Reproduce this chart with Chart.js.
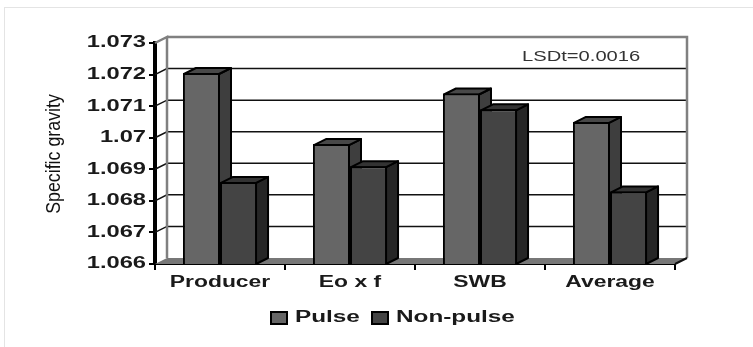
<!DOCTYPE html>
<html>
<head>
<meta charset="utf-8">
<style>
  html, body { margin: 0; padding: 0; background: #fff; }
  #wrap { position: absolute; left: 4px; top: 7px; width: 749px; height: 340px; border-left: 1px solid #e4e4e4; border-top: 1px solid #e4e4e4; box-sizing: border-box; }
  canvas { position: absolute; left: 0; top: 0; filter: blur(0.5px); }
</style>
</head>
<body>
<div id="wrap"></div>
<canvas id="gravityChart" width="753" height="347"></canvas>
<script src="https://cdn.jsdelivr.net/npm/chart.js@4"></script>
<script>
const categories = ['Producer', 'Eo x f', 'SWB', 'Average'];
const pulse = [1.07205, 1.0698, 1.0714, 1.0705];
const nonPulse = [1.0686, 1.0691, 1.0709, 1.0683];
const seriesNames = ['Pulse', 'Non-pulse'];
const yTitle = 'Specific gravity';
const note = 'LSDt=0.0016';

// depth of the fake 3D box
const DX = 12;
const DY = 6;

// text in the source image is stretched sideways, fillText + scale does that
function wideText(ctx, text, x, y, font, color, sx, align) {
  ctx.save();
  ctx.font = font;
  ctx.fillStyle = color;
  ctx.textBaseline = 'middle';
  ctx.textAlign = align;
  ctx.translate(x, y);
  ctx.scale(sx, 1);
  ctx.fillText(text, 0, 0);
  ctx.restore();
}

function poly(ctx, pts, fill) {
  ctx.beginPath();
  pts.forEach((p, i) => (i ? ctx.lineTo(p[0], p[1]) : ctx.moveTo(p[0], p[1])));
  ctx.closePath();
  ctx.fillStyle = fill;
  ctx.fill();
}

function drawWall(chart) {
  const { ctx, chartArea: a, scales: { y } } = chart;
  // floor
  poly(ctx, [[a.left, a.bottom], [a.left + DX, a.bottom - DY], [a.right + DX, a.bottom - DY], [a.right, a.bottom]], '#777');
  // grid on back wall, with the short slanted piece from the axis
  ctx.strokeStyle = '#111';
  ctx.lineWidth = 1.5;
  y.ticks.forEach((t) => {
    if (t.value <= y.min || t.value >= y.max) return;
    const py = y.getPixelForValue(t.value);
    ctx.beginPath();
    ctx.moveTo(a.left, py);
    ctx.lineTo(a.left + DX, py - DY);
    ctx.lineTo(a.right + DX, py - DY);
    ctx.stroke();
  });
  // wall outline
  ctx.strokeStyle = '#808080';
  ctx.lineWidth = 2.5;
  ctx.beginPath();
  ctx.moveTo(a.left, a.top);
  ctx.lineTo(a.left + DX, a.top - DY);
  ctx.lineTo(a.left + DX, a.bottom - DY);
  ctx.moveTo(a.left + DX, a.top - DY);
  ctx.lineTo(a.right + DX, a.top - DY);
  ctx.lineTo(a.right + DX, a.bottom - DY);
  ctx.stroke();
  ctx.strokeStyle = '#111';
  ctx.lineWidth = 2;
  ctx.beginPath();
  ctx.moveTo(a.right, a.bottom);
  ctx.lineTo(a.right + DX, a.bottom - DY);
  ctx.stroke();
}

// sides and tops go under all the front faces, pulse first
function drawSides(chart, index) {
  const { ctx, scales: { y } } = chart;
  const ds = chart.data.datasets[index];
  const b = y.getPixelForValue(y.min);
  ctx.strokeStyle = '#000';
  ctx.lineWidth = 2;
  ctx.lineJoin = 'round';
  chart.getDatasetMeta(index).data.forEach((bar) => {
    const l = bar.x - bar.width / 2 + 1;
    const r = bar.x + bar.width / 2 - 1;
    const t = bar.y + 1;
    poly(ctx, [[r, t], [r + DX, t - DY], [r + DX, b - DY], [r, b]], ds.sideColor);
    ctx.stroke();
    poly(ctx, [[l, t], [l + DX, t - DY], [r + DX, t - DY], [r, t]], ds.topColor);
    ctx.stroke();
  });
}

const box = {
  id: 'box',
  beforeDatasetsDraw(chart) {
    chart.ctx.save();
    drawWall(chart);
    drawSides(chart, 0);
    drawSides(chart, 1);
    chart.ctx.restore();
  },
};

const labels = {
  id: 'labels',
  afterDraw(chart) {
    const { ctx, scales: { x, y } } = chart;
    const tickFont = 'bold 16px "Liberation Sans"';
    y.ticks.forEach((t) => {
      wideText(ctx, t.label, 146, y.getPixelForValue(t.value), tickFont, '#1a1a1a', 1.48, 'right');
    });
    categories.forEach((c, i) => {
      wideText(ctx, c, x.getPixelForValue(i), 283, tickFont, '#1a1a1a', 1.43, 'center');
    });
    // axis title
    ctx.save();
    ctx.translate(54, 154);
    ctx.rotate(-Math.PI / 2);
    wideText(ctx, yTitle, 0, 0, '20px "Liberation Sans"', '#111', 0.89, 'center');
    ctx.restore();
    // note on the wall
    wideText(ctx, note, 522, 57, '14px "Liberation Sans"', '#333', 1.44, 'left');
    // legend
    const items = [[271, 295, 0], [372, 396, 1]];
    items.forEach(([bx, tx, i]) => {
      ctx.fillStyle = chart.data.datasets[i].backgroundColor;
      ctx.strokeStyle = '#000';
      ctx.lineWidth = 2;
      ctx.fillRect(bx, 312, 16, 12);
      ctx.strokeRect(bx, 312, 16, 12);
      wideText(ctx, seriesNames[i], tx, 318, tickFont, '#1a1a1a', 1.52, 'left');
    });
  },
};

new Chart(document.getElementById('gravityChart'), {
  type: 'bar',
  data: {
    labels: categories,
    datasets: [
      { label: seriesNames[0], data: pulse, backgroundColor: '#666666', sideColor: '#3e3e3e', topColor: '#484848', borderColor: '#000', borderWidth: 2 },
      { label: seriesNames[1], data: nonPulse, backgroundColor: '#444444', sideColor: '#262626', topColor: '#333333', borderColor: '#000', borderWidth: 2 },
    ],
  },
  plugins: [box, labels],
  options: {
    responsive: false,
    animation: false,
    layout: { padding: { left: 149, right: 78, top: 43, bottom: 77 } },
    plugins: { legend: { display: false }, title: { display: false }, tooltip: { enabled: false } },
    datasets: { bar: { barPercentage: 1, categoryPercentage: 0.57 } },
    scales: {
      x: {
        grid: { drawOnChartArea: false, drawTicks: true, tickLength: 6, color: '#000', lineWidth: 2 },
        border: { color: '#000', width: 2 },
        ticks: { display: false },
      },
      y: {
        min: 1.066,
        max: 1.073,
        grid: { drawOnChartArea: false, drawTicks: true, tickLength: 6, color: '#000', lineWidth: 2 },
        border: { color: '#000', width: 4 },
        ticks: { display: false, stepSize: 0.001, callback: (v) => String(+v.toFixed(3)) },
      },
    },
  },
});
</script>
</body>
</html>
